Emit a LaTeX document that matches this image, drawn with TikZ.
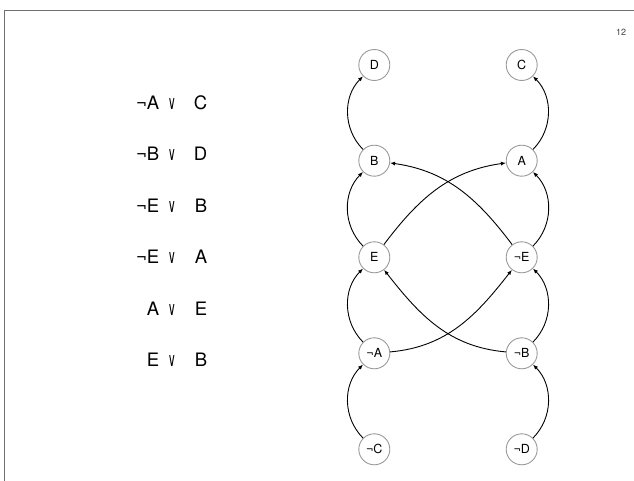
\documentclass[tikz,border=0pt]{standalone}
\usepackage{fontspec}
\setmainfont{TeX Gyre Heros}
\newfontfamily\opfont{DejaVu Sans}
\usepackage{graphicx}
\usetikzlibrary{arrows.meta}

\definecolor{ringgray}{HTML}{9A9A9A}
\definecolor{framegray}{HTML}{707070}

% narrow logical "or" sign used in the clause list
\newcommand{\orglyph}{\scalebox{0.58}[1]{\opfont\fontsize{19}{21}\selectfont ∨}}

\tikzset{
  lit/.style={circle, draw=ringgray, line width=0.9pt, fill=white,
              minimum size=31pt, inner sep=0pt,
              font=\fontsize{12.5}{14}\selectfont},
  imp/.style={-{Latex[length=5pt,width=4pt]}, line width=0.9pt},
  clause/.style={font=\fontsize{18.5}{20}\selectfont, inner sep=0pt,
                 anchor=base east},
  orsym/.style={inner sep=0pt, anchor=base},
}

\begin{document}
\begin{tikzpicture}[x=1pt,y=1pt]
\useasboundingbox (0,0) rectangle (634,-481);

% slide frame
\draw[framegray, line width=1.2pt] (634,-10.5) -- (4.3,-10.5) -- (4.3,-481);

% page number
\node[font=\fontsize{9}{10}\selectfont, text=black!75] (pagenum) at (621,-32) {12};

% clauses
\foreach \i/\yb/\p/\q in {1/109.7/¬A/C, 2/161/¬B/D, 3/212.3/¬E/B,
                          4/263.6/¬E/A, 5/315/A/E, 6/366.3/E/B}{
  \node[clause] (cl\i-l) at (159.5,-\yb) {\p};
  \node[orsym]  (cl\i-o) at (172,-\yb) {\orglyph};
  \node[clause] (cl\i-r) at (207.5,-\yb) {\q};
}

% implication graph: literals
\node[lit] (D)  at (374.3,-65)    {D};
\node[lit] (C)  at (521.7,-65)    {C};
\node[lit] (B)  at (374.3,-160.7) {B};
\node[lit] (A)  at (521.7,-160.7) {A};
\node[lit] (E)  at (374.3,-257.3) {E};
\node[lit] (nE) at (521.7,-257.3) {¬E};
\node[lit] (nA) at (374.3,-353.3) {¬A};
\node[lit] (nB) at (521.7,-353.3) {¬B};
\node[lit] (nC) at (374.3,-449.3) {¬C};
\node[lit] (nD) at (521.7,-449.3) {¬D};

% implications within each column
\draw[imp] (B)  to[bend left=45]  (D);
\draw[imp] (E)  to[bend left=45]  (B);
\draw[imp] (nA) to[bend left=45]  (E);
\draw[imp] (nC) to[bend left=45]  (nA);
\draw[imp] (A)  to[bend right=45] (C);
\draw[imp] (nE) to[bend right=45] (A);
\draw[imp] (nB) to[bend right=45] (nE);
\draw[imp] (nD) to[bend right=45] (nB);

% implications across the columns
\draw[imp] (E)  to[out=53,in=188]  (A);
\draw[imp] (nE) to[out=127,in=352] (B);
\draw[imp] (nA) to[out=5,in=232]   (nE);
\draw[imp] (nB) to[out=175,in=308] (E);
\end{tikzpicture}
\end{document}
